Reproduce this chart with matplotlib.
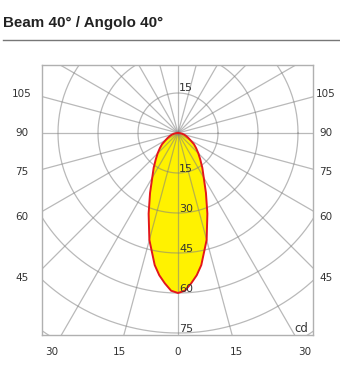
import numpy as np
import matplotlib.pyplot as plt
from matplotlib.lines import Line2D

# Chart data
TITLE = "Beam 40° / Angolo 40°"
UNIT = "cd"
gamma_deg = [0, 2.5, 5, 7.5, 10, 15, 20, 25, 30, 35, 40, 45, 50, 55, 60, 65, 70, 75, 80, 85, 90]
intensity_cd = [60, 59.2, 56.6, 53.8, 50.3, 41.5, 32.2, 24.8, 19.3, 15.9, 13.0, 10.8,
                8.9, 7.3, 5.4, 4.2, 3.2, 2.4, 1.6, 0.8, 0]
ring_values = [15, 30, 45, 60, 75, 90]
ring_labels = [15, 30, 45, 60, 75]
side_angles = [105, 90, 75, 60, 45]
bottom_angles = [-30, -15, 0, 15, 30]

# Layout constants
W, H = 340, 389
PX = 40 / 15  # pixels per cd
CX, CY = 178, 133  # pole position in pixels (from top-left)
BOX = (42, 65, 313, 335)  # left, top, right, bottom in pixels

GRID = "#808080"
YELLOW = "#FFF200"
RED = "#E3161B"
TEXT = "#333333"

fig = plt.figure(figsize=(W / 100, H / 100), dpi=100)
ax = fig.add_axes([BOX[0] / W, (H - BOX[3]) / H, (BOX[2] - BOX[0]) / W, (BOX[3] - BOX[1]) / H])
ax.set_xlim((BOX[0] - CX) / PX, (BOX[2] - CX) / PX)
ax.set_ylim((CY - BOX[3]) / PX, (CY - BOX[1]) / PX)
ax.set_xticks([])
ax.set_yticks([])
for s in ax.spines.values():
    s.set_color("#b0b0b0")
    s.set_linewidth(1)

# photometric curve (mirrored, symmetric beam)
g = np.array(gamma_deg)
i = np.array(intensity_cd)
th = np.radians(np.concatenate([-g[::-1], g[1:]]))
r = np.concatenate([i[::-1], i[1:]])
x = r * np.sin(th)
y = -r * np.cos(th)
ax.fill(x, y, color=YELLOW, lw=0, zorder=1)

# polar grid drawn over the fill
t = np.linspace(0, 2 * np.pi, 361)
for v in ring_values:
    ax.plot(v * np.cos(t), v * np.sin(t), color=GRID, lw=0.9, alpha=0.55, zorder=2)
for a in range(0, 360, 15):
    ra = np.radians(a)
    ax.plot([0, 300 * np.sin(ra)], [0, -300 * np.cos(ra)], color=GRID, lw=0.9, alpha=0.55, zorder=2)

ax.plot(x, y, color=RED, lw=1.4, zorder=4, solid_joinstyle="round")

# ring value labels along the axis
for v in ring_labels:
    ax.text(0.4, -v + 0.55, str(v), ha="left", va="baseline", fontsize=8, color=TEXT, zorder=5)
ax.text(0.4, 15 + 0.6, "15", ha="left", va="baseline", fontsize=8, color=TEXT, zorder=5)

# gamma angle labels at the sides and bottom
side_dx = 145 / PX
for a in side_angles:
    ra = np.radians(a)
    yy = -side_dx * np.cos(ra) / np.sin(ra)
    ax.text((22 - CX) / PX, yy, str(a), ha="center", va="center", fontsize=7.5,
            color=TEXT, clip_on=False)
    ax.text((326 - CX) / PX, yy, str(a), ha="center", va="center", fontsize=7.5,
            color=TEXT, clip_on=False)

bottom_dy = 219 / PX
for a in bottom_angles:
    xx = bottom_dy * np.tan(np.radians(a))
    ax.text(xx, -bottom_dy, str(abs(a)), ha="center", va="center", fontsize=7.5,
            color=TEXT, clip_on=False)

ax.text((308 - CX) / PX, (CY - 332) / PX, UNIT, ha="right", va="baseline", fontsize=8.5,
        color=TEXT, zorder=5)

# title and rule
fig.text(3 / W, (H - 27) / H, TITLE, fontsize=10.9, fontweight="bold", color="#222222",
         family=["Liberation Sans", "DejaVu Sans"], va="baseline", ha="left")
fig.add_artist(Line2D([3 / W, 1], [(H - 40) / H] * 2, color="#777777", lw=1))

fig.savefig("out.png", dpi=100)
